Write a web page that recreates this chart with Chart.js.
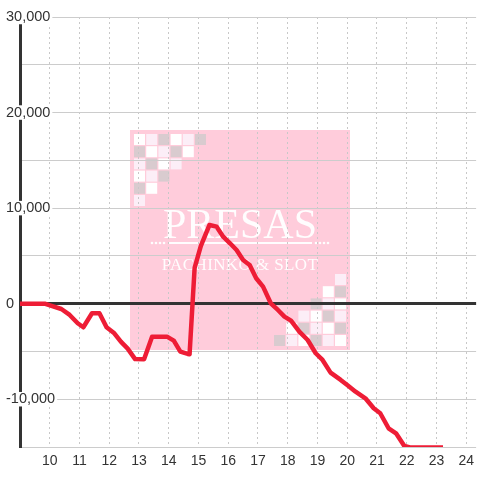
<!DOCTYPE html>
<html>
<head>
<meta charset="utf-8">
<script src="https://cdn.jsdelivr.net/npm/chart.js@4/dist/chart.umd.min.js"></script>
<style>
    html, body { margin: 0; padding: 0; background: #fff; }
    #wrap { width: 480px; height: 480px; }
</style>
</head>
<body>
<div id="wrap"><canvas id="chart-line"></canvas></div>
<script>
// hour of day and running balance
const hours = [
    9.00, 9.83, 10.06, 10.39, 10.67, 10.94, 11.13, 11.42, 11.67, 11.91,
    12.17, 12.39, 12.62, 12.87, 13.17, 13.44, 13.94, 14.17, 14.39, 14.64,
    14.70, 14.87, 15.08, 15.37, 15.61, 15.83, 16.06, 16.28, 16.50, 16.72,
    16.94, 17.17, 17.43, 17.67, 17.89, 18.11, 18.39, 18.67, 18.94, 19.17,
    19.44, 19.78, 20.00, 20.28, 20.61, 20.89, 21.11, 21.39, 21.64, 21.92,
    22.11, 23.22
];
const balance = [
    0, 0, -240, -560, -1180, -2050, -2470, -1000, -1000, -2470,
    -3100, -3980, -4700, -5800, -5820, -3450, -3450, -3870, -5020, -5260,
    -5300, 3740, 6040, 8235, 8060, 7010, 6320, 5620, 4570, 4050,
    2660, 1780, 40, -660, -1360, -1780, -2930, -3800, -5190, -5890,
    -7220, -7980, -8510, -9210, -9900, -10950, -11470, -13040, -13570, -14900,
    -15050, -15050
];
const xTicks = [10, 11, 12, 13, 14, 15, 16, 17, 18, 19, 20, 21, 22, 23, 24];
const yLabelValues = [-10000, 0, 10000, 20000, 30000];

// pink logo card behind the grid
const logoPlugin = {
    id: "logo",
    beforeDraw(chart) {
        const ctx = chart.ctx;
        ctx.save();
        ctx.fillStyle = "#fff";
        ctx.fillRect(0, 0, chart.width, chart.height);

        ctx.fillStyle = "#FFCCDB";
        ctx.fillRect(130, 130, 220, 220);

        const tones = { W: "#ffffff", L: "#fceef7", G: "#d9cbcf" };
        const rows = ["WLGWLG", "GWLGW", "LGWL", "WLG", "GW", "L"];
        const pitch = 12.2, size = 11;
        rows.forEach((row, r) => {
            for (let c = 0; c < row.length; c++) {
                ctx.fillStyle = tones[row[c]];
                ctx.fillRect(134 + c * pitch, 134 + r * pitch, size, size);
                ctx.fillRect(346 - size - c * pitch, 346 - size - r * pitch, size, size);
            }
        });

        ctx.fillStyle = "rgba(255,255,255,0.96)";
        ctx.textAlign = "center";
        ctx.textBaseline = "alphabetic";
        ctx.font = "42px 'Liberation Serif'";
        ctx.fillText("PRESAS", 240, 238);
        ctx.font = "17px 'Liberation Serif'";
        ctx.letterSpacing = "0.4px";
        ctx.fillText("PACHINKO & SLOT", 240, 270);
        ctx.letterSpacing = "0px";

        ctx.fillRect(168, 242, 144, 2);
        [152, 156, 160, 164, 316, 320, 324, 328].forEach(x => {
            ctx.beginPath();
            ctx.arc(x, 243, 1.3, 0, Math.PI * 2);
            ctx.fill();
        });
        ctx.restore();
    }
};

let ctx = document.getElementById("chart-line").getContext("2d");

window.lineChart = new Chart(ctx, {
    type: "line",
    data: {
        datasets: [{
            data: hours.map((h, i) => ({ x: h, y: balance[i] })),
            borderColor: "#EE1D36",
            borderWidth: 4.5,
            borderJoinStyle: "round",
            pointRadius: 0,
            tension: 0,
            fill: false
        }]
    },
    options: {
        responsive: true,
        maintainAspectRatio: false,
        animation: false,
        layout: { padding: { left: 5, top: 17, right: 0, bottom: 0 } },
        plugins: {
            legend: { display: false },
            tooltip: { enabled: false }
        },
        scales: {
            x: {
                type: "linear",
                min: 9,
                max: 24.333,
                afterBuildTicks: s => { s.ticks = xTicks.map(v => ({ value: v })); },
                afterFit: s => { s.height = 33; },
                grid: { color: "#c8c8c8", lineWidth: 1, drawTicks: false },
                border: { display: false, dash: [2, 3] },
                ticks: {
                    padding: 6,
                    color: "#333",
                    font: { family: "'Liberation Sans', Arial, sans-serif", size: 14 }
                }
            },
            y: {
                min: -15000,
                max: 30000,
                afterFit: s => { s.width = 15; },
                grid: {
                    drawTicks: false,
                    color: c => c.tick && c.tick.value === 0 ? "#333" : "#cccccc",
                    lineWidth: c => c.tick && c.tick.value === 0 ? 3 : 1
                },
                border: { display: true, color: "#333", width: 3 },
                ticks: {
                    stepSize: 5000,
                    mirror: true,
                    crossAlign: "near",
                    padding: -14,
                    color: "#333",
                    font: { family: "'Liberation Sans', Arial, sans-serif", size: 14.5, lineHeight: 1 },
                    showLabelBackdrop: c => yLabelValues.includes(c.tick.value),
                    backdropColor: "#fff",
                    backdropPadding: { left: 2, right: 2, top: 0, bottom: 0 },
                    callback: v => yLabelValues.includes(v) ? v.toLocaleString("en-US") : ""
                }
            }
        }
    },
    plugins: [logoPlugin]
});
</script>
</body>
</html>
